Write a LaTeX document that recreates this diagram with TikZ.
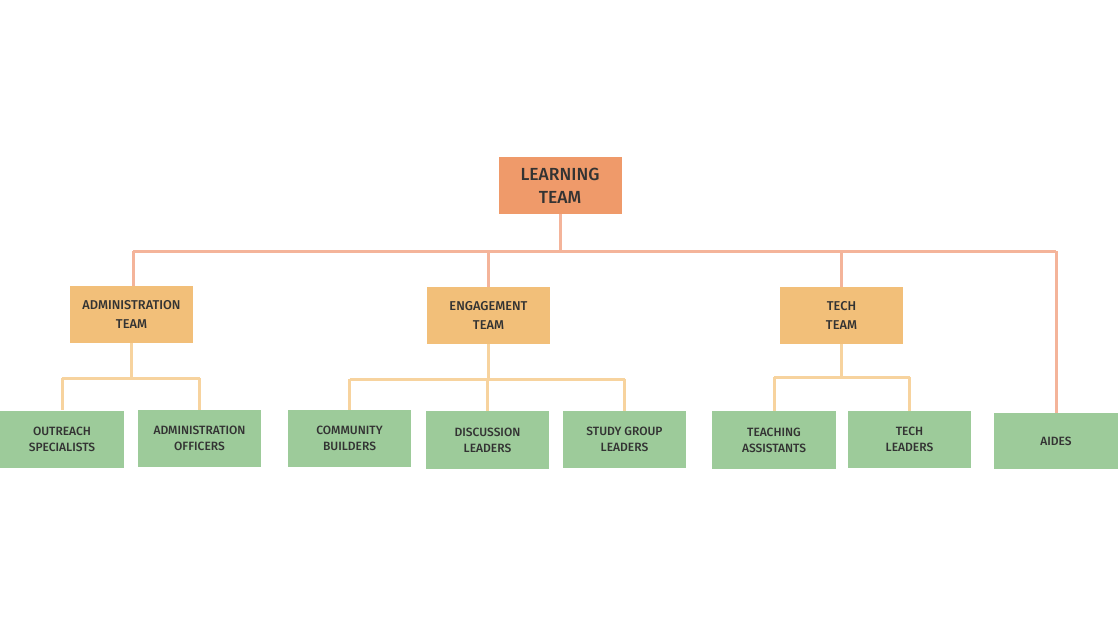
\documentclass[tikz,border=0pt]{standalone}
\usepackage{fontspec}
\setmainfont{Fira Sans}[UprightFont={* Medium}]
\definecolor{topfill}{HTML}{EF9A6A}
\definecolor{teamfill}{HTML}{F2BF79}
\definecolor{leaffill}{HTML}{9DCB9A}
\definecolor{mainline}{HTML}{F4B49A}
\definecolor{subline}{HTML}{F7D39E}
\definecolor{labeltext}{HTML}{333333}
\tikzset{
  box/.style={rectangle, inner sep=0pt, align=center, text=labeltext, minimum width=123pt},
  topbox/.style={box, fill=topfill, minimum height=57pt, font=\fontsize{17.5}{23}\selectfont},
  teambox/.style={box, fill=teamfill, minimum height=57pt, font=\fontsize{12.8}{19}\selectfont},
  leafbox/.style={box, fill=leaffill, minimum height=57pt, font=\fontsize{12}{16}\selectfont},
  mainwire/.style={draw=mainline, line width=3pt},
  subwire/.style={draw=subline, line width=3pt}
}
\begin{document}
\begin{tikzpicture}[x=1pt,y=-1pt]
\useasboundingbox (0,0) rectangle (1120,630);
\fill[white] (0,0) rectangle (1120,630);

% bus coordinates
\coordinate (busL) at (133,251);
\coordinate (busR) at (1056,251);
\coordinate (adminbus) at (0,378);
\coordinate (engbus) at (0,379);
\coordinate (techbus) at (0,377);

% root
\node[topbox] (learn) at (560,185.5) {LEARNING\\TEAM};

% teams
\node[teambox] (admin) at (131.5,314.5) {ADMINISTRATION\\TEAM};
\node[teambox] (eng) at (488.5,315.5) {ENGAGEMENT\\TEAM};
\node[teambox] (tech) at (841.5,315.5) {TECH\\TEAM};

% leaves
\node[leafbox, minimum width=124pt] (outreach) at (62,439) {OUTREACH\\SPECIALISTS};
\node[leafbox] (officers) at (199.5,438.5) {ADMINISTRATION\\OFFICERS};
\node[leafbox] (community) at (349.5,438.5) {COMMUNITY\\BUILDERS};
\node[leafbox, minimum height=58pt] (discussion) at (487.5,440) {DISCUSSION\\LEADERS};
\node[leafbox] (study) at (624.5,439.5) {STUDY GROUP\\LEADERS};
\node[leafbox, minimum width=124pt, minimum height=58pt] (teaching) at (774,440) {TEACHING\\ASSISTANTS};
\node[leafbox] (techlead) at (909.5,439.5) {TECH\\LEADERS};
\node[leafbox, minimum width=124pt, minimum height=56pt] (aides) at (1056,441) {AIDES};

% main connectors
\draw[mainwire] (learn.south) -- (learn.south |- busL);
\draw[mainwire] (busL) -- (busR);
\draw[mainwire] (busL) -- (busL |- admin.north);
\draw[mainwire] (eng.north |- busL) -- (eng.north);
\draw[mainwire] (tech.north |- busL) -- (tech.north);
\draw[mainwire] (busR) -- (busR |- aides.north);

% administration branch
\draw[subwire] (admin.south) -- (admin.south |- adminbus);
\draw[subwire] (outreach.north |- adminbus) -- (officers.north |- adminbus);
\draw[subwire] (outreach.north |- adminbus) -- (outreach.north);
\draw[subwire] (officers.north |- adminbus) -- (officers.north);

% engagement branch
\draw[subwire] (eng.south) -- (eng.south |- engbus);
\draw[subwire] (community.north |- engbus) -- (study.north |- engbus);
\draw[subwire] (community.north |- engbus) -- (community.north);
\draw[subwire] (discussion.north |- engbus) -- (discussion.north);
\draw[subwire] (study.north |- engbus) -- (study.north);

% tech branch
\draw[subwire] (tech.south) -- (tech.south |- techbus);
\draw[subwire] (teaching.north |- techbus) -- (techlead.north |- techbus);
\draw[subwire] (teaching.north |- techbus) -- (teaching.north);
\draw[subwire] (techlead.north |- techbus) -- (techlead.north);
\end{tikzpicture}
\end{document}
